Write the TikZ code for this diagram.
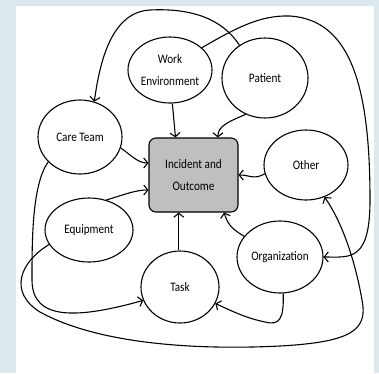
\documentclass[tikz,border=0pt]{standalone}
\usepackage{fontspec}
\setmainfont{Carlito}[FakeStretch=0.86]
\usetikzlibrary{
    arrows.meta,
    shapes.geometric,
    calc
}
\definecolor{page blue}{RGB}{221,231,238}
\tikzset{
    % Colors
    page color/.style={fill=page blue},
    sheet color/.style={fill=white},
    event color/.style={fill=black!25},
    %
    % Nodes
    factor/.style 2 args={ellipse,draw,line width=1.1pt,inner sep=0pt,minimum width=#1,minimum height=#2,align=center},
    event/.style={rectangle,rounded corners=7pt,draw,line width=1.1pt,event color,minimum width=89pt,minimum height=74pt,align=center},
    %
    % Arrows
    arrow tip/.tip={Straight Barb[length=4pt,width=10pt]},
    arr/.style={->,>={arrow tip},line width=1.1pt}
}
\tikzstyle{every node}=[font=\fontsize{13}{22}\selectfont]

\begin{document}
\begin{tikzpicture}[x=1pt,y=-1pt]
        \useasboundingbox (0,0) rectangle (379,373);
        \fill[page color] (0,0) rectangle (379,373);
        \fill[sheet color] (16,6) rectangle (374,373);
        \node[event] (box) at (193.5,175) {Incident and\\Outcome};
        \node[factor={84pt}{66pt}] (work) at (170,70) {Work\\Environment};
        \node[factor={86pt}{80pt}] (pat) at (265,78) {Patient};
        \node[factor={84pt}{74pt}] (care) at (80,137) {Care Team};
        \node[factor={84pt}{70pt}] (other) at (306,165) {Other};
        \node[factor={88pt}{64pt}] (equip) at (89,230) {Equipment};
        \node[factor={86pt}{72pt}] (org) at (280,257) {Organization};
        \node[factor={78pt}{72pt}] (task) at (180,287) {Task};
        % into the incident
        \draw[arr] (work.274) -- ($(box.north west)!.3!(box.north east)$);
        \draw[arr] (pat.242) .. controls (228,122) and (218,126) .. ($(box.north west)!.77!(box.north east)$);
        \draw[arr] (care.345) .. controls (132,156) and (138,163) .. ($(box.north west)!.34!(box.south west)$);
        \draw[arr] (equip.60) .. controls (126,194) and (136,190) .. ($(box.north west)!.7!(box.south west)$);
        \draw[arr] (task.92) -- (task.92 |- box.south);
        \draw[arr] (org.150) .. controls (234,230) and (228,226) .. ($(box.south west)!.84!(box.south east)$);
        \draw[arr] (other.192) .. controls (254,180) and (250,175) .. (box.east);
        % long loops
        \draw[arr] (pat.128) .. controls (222,18) and (190,8) .. (150,10)
            .. controls (112,12) and (100,60) .. (care.68);
        \draw[arr] (work.35) .. controls (236,28) and (260,15) .. (290,16)
            .. controls (352,20) and (370,90) .. (370,200)
            .. controls (370,262) and (350,257) .. (org.east);
        \draw[arr] (care.218) .. controls (32,185) and (32,240) .. (32,280)
            .. controls (32,322) and (80,318) .. (task.200);
        \draw[arr] (equip.200) .. controls (20,262) and (8,292) .. (40,312)
            .. controls (100,345) and (200,350) .. (280,346)
            .. controls (352,342) and (368,330) .. (362,300)
            .. controls (355,260) and (342,222) .. (other.300);
        \draw[arr] (org.275) .. controls (284,318) and (280,326) .. (265,322)
            .. controls (246,318) and (234,312) .. (task.335);
    \end{tikzpicture}
\end{document}
